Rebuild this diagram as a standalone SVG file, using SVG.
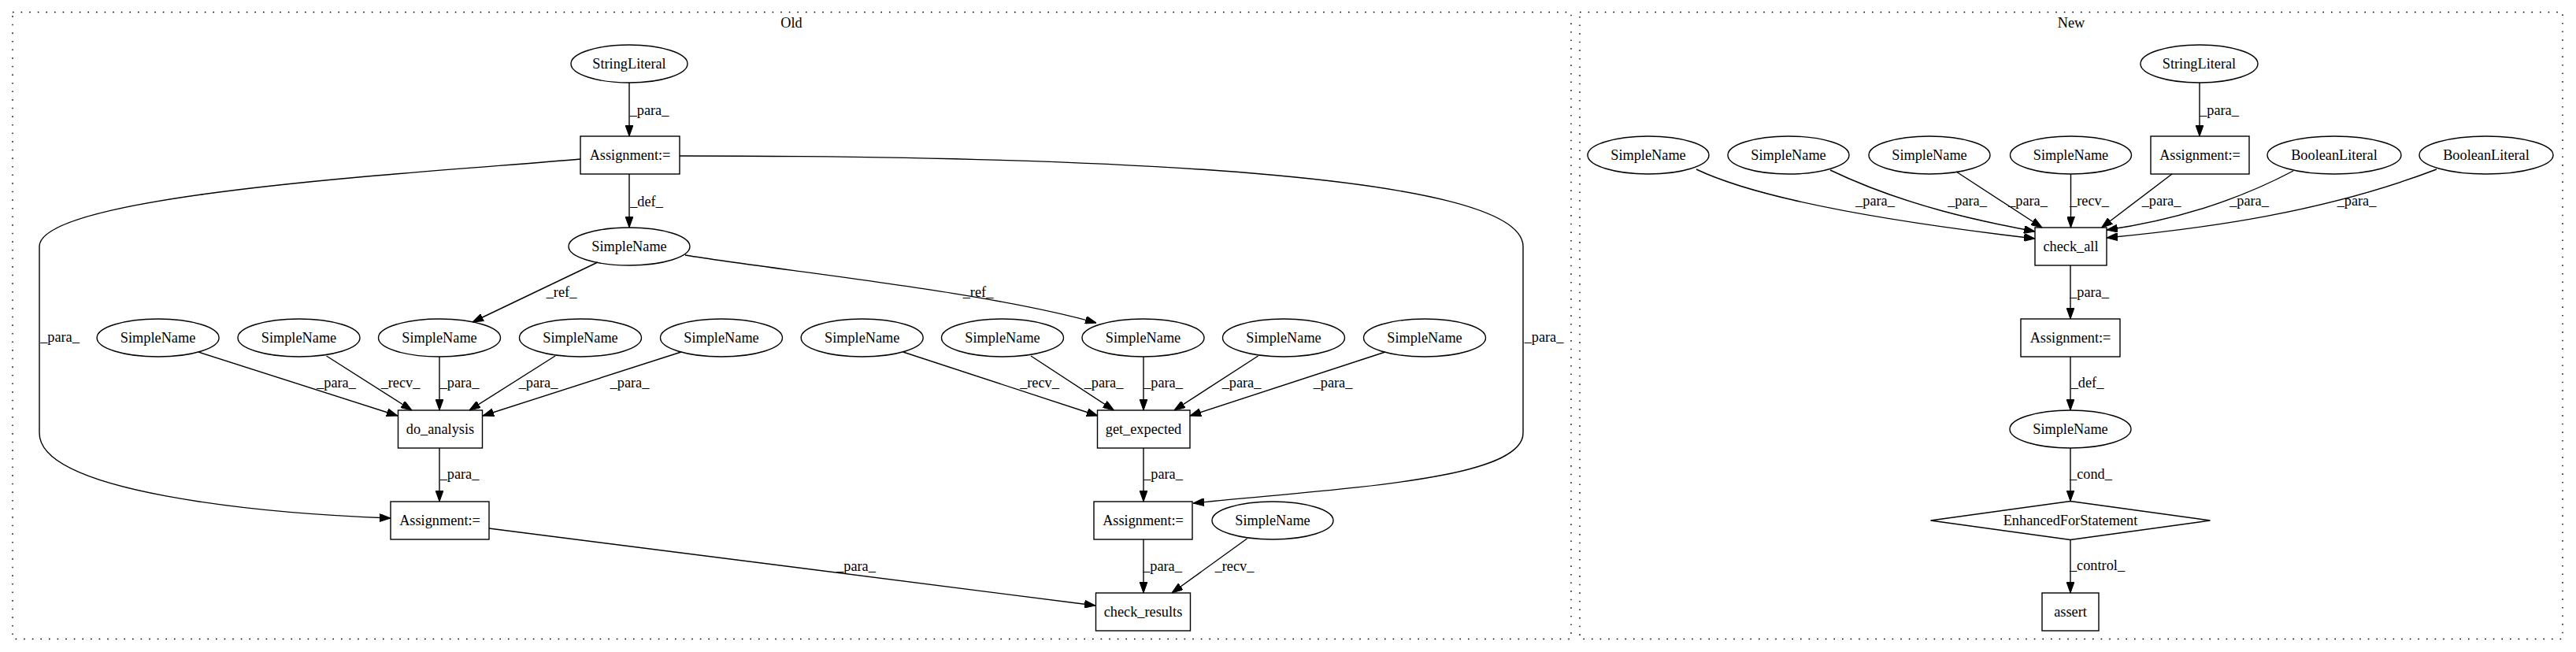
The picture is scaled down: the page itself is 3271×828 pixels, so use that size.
<svg xmlns="http://www.w3.org/2000/svg" width="3271" height="828" viewBox="0 0 3271 828">
<style>
text{font-family:"Liberation Serif","Times New Roman",serif;font-size:18.3px;fill:#000;text-anchor:middle}
.cl{fill:none;stroke:#000;stroke-width:1.4;stroke-dasharray:1.6,9}
.n ellipse,.n rect,.n polygon{fill:none;stroke:#000;stroke-width:1.4}
.e path{fill:none;stroke:#000;stroke-width:1.4;marker-end:url(#ah)}
</style>
<defs>
<marker id="ah" viewBox="0 0 14 10" refX="14" refY="5" markerWidth="14" markerHeight="10" markerUnits="userSpaceOnUse" orient="auto">
<path d="M0,0 L14,5 L0,10 z" fill="#000" stroke="#000" stroke-width="1"/>
</marker>
</defs>
<rect width="3271" height="828" fill="#fff"/>
<g id="clusters">
<rect class="cl" x="16" y="15.5" width="1979" height="796"/>
<text x="1005" y="35">Old</text>
<rect class="cl" x="2006" y="15.5" width="1248" height="796"/>
<text x="2630" y="35">New</text>
</g>
<g id="edges" class="e">
<path d="M799,105 L799,173"/>
<path d="M799,221 L799,289"/>
<path d="M759,333 L600,409"/>
<path d="M870,324 C1000,345 1250,370 1392,410"/>
<path d="M737,202 C560,218 50,245 50,313 L50,550 C50,625 330,652 496,658"/>
<path d="M863,198 C1450,198 1934,225 1934,313 L1934,550 C1934,610 1700,620 1515,639"/>
<path d="M252,447 L505,528"/>
<path d="M414.5,452 L523,521"/>
<path d="M558,453 L558,521"/>
<path d="M705,452 L596,521"/>
<path d="M865,447 L613,528"/>
<path d="M558,569 L558,637"/>
<path d="M1146.7,447 L1394,528"/>
<path d="M1309,452 L1414.5,521"/>
<path d="M1452,453 L1452,521"/>
<path d="M1597.6,452 L1491,521"/>
<path d="M1759,447 L1511,528"/>
<path d="M1452,569 L1452,637"/>
<path d="M1452,685 L1452,753"/>
<path d="M1583.5,684 L1488,753"/>
<path d="M621,671 L1391,769"/>
<path d="M2793,105 L2793,173"/>
<path d="M2154,215 C2240,256 2420,284 2584,303"/>
<path d="M2324,216 C2420,262 2520,282 2584,294"/>
<path d="M2484,218 L2593,289"/>
<path d="M2629.5,221 L2629.5,289"/>
<path d="M2758,221 L2668.5,289"/>
<path d="M2912,217 C2840,255 2760,280 2675,292"/>
<path d="M3094,215 C2950,270 2800,290 2675,302"/>
<path d="M2629,337 L2629,405"/>
<path d="M2629,453 L2629,521"/>
<path d="M2629,569 L2629,636.5"/>
<path d="M2629,685.5 L2629,753"/>
</g>
<g id="edge-labels">
<text x="824.5" y="146">_para_</text>
<text x="821" y="262">_def_</text>
<text x="713" y="377">_ref_</text>
<text x="1242" y="377">_ref_</text>
<text x="76" y="434">_para_</text>
<text x="1960.5" y="434">_para_</text>
<text x="427" y="492">_para_</text>
<text x="508.5" y="492">_recv_</text>
<text x="583.5" y="492">_para_</text>
<text x="683.5" y="492">_para_</text>
<text x="799.5" y="492">_para_</text>
<text x="583.5" y="608">_para_</text>
<text x="1320" y="492">_recv_</text>
<text x="1401.5" y="492">_para_</text>
<text x="1477" y="492">_para_</text>
<text x="1576.5" y="492">_para_</text>
<text x="1692.5" y="492">_para_</text>
<text x="1477" y="608">_para_</text>
<text x="1476" y="725">_para_</text>
<text x="1567.5" y="725">_recv_</text>
<text x="1087" y="725">_para_</text>
<text x="2818" y="146">_para_</text>
<text x="2381" y="261">_para_</text>
<text x="2498" y="261">_para_</text>
<text x="2575" y="261">_para_</text>
<text x="2653" y="261">_recv_</text>
<text x="2744.5" y="261">_para_</text>
<text x="2856" y="261">_para_</text>
<text x="2992.5" y="261">_para_</text>
<text x="2653" y="377">_para_</text>
<text x="2650.5" y="492">_def_</text>
<text x="2655" y="608">_cond_</text>
<text x="2663" y="724">_control_</text>
</g>
<g id="o_str" class="n"><ellipse cx="799" cy="81" rx="74" ry="24"/><text x="799" y="86.5">StringLiteral</text></g>
<g id="o_asg0" class="n"><rect x="737" y="173" width="126" height="48"/><text x="800" y="202.5">Assignment:=</text></g>
<g id="o_sn0" class="n"><ellipse cx="799" cy="313" rx="77" ry="24"/><text x="799" y="318.5">SimpleName</text></g>
<g id="o_sn1" class="n"><ellipse cx="200.6" cy="429" rx="77.5" ry="24"/><text x="200.6" y="434.5">SimpleName</text></g>
<g id="o_sn2" class="n"><ellipse cx="379.5" cy="429" rx="77.5" ry="24"/><text x="379.5" y="434.5">SimpleName</text></g>
<g id="o_sn3" class="n"><ellipse cx="558" cy="429" rx="77.5" ry="24"/><text x="558" y="434.5">SimpleName</text></g>
<g id="o_sn4" class="n"><ellipse cx="737" cy="429" rx="77.5" ry="24"/><text x="737" y="434.5">SimpleName</text></g>
<g id="o_sn5" class="n"><ellipse cx="916" cy="429" rx="77.5" ry="24"/><text x="916" y="434.5">SimpleName</text></g>
<g id="o_sn6" class="n"><ellipse cx="1094.7" cy="429" rx="77.5" ry="24"/><text x="1094.7" y="434.5">SimpleName</text></g>
<g id="o_sn7" class="n"><ellipse cx="1273" cy="429" rx="77.5" ry="24"/><text x="1273" y="434.5">SimpleName</text></g>
<g id="o_sn8" class="n"><ellipse cx="1451.5" cy="429" rx="77.5" ry="24"/><text x="1451.5" y="434.5">SimpleName</text></g>
<g id="o_sn9" class="n"><ellipse cx="1630" cy="429" rx="77.5" ry="24"/><text x="1630" y="434.5">SimpleName</text></g>
<g id="o_sn10" class="n"><ellipse cx="1809" cy="429" rx="77.5" ry="24"/><text x="1809" y="434.5">SimpleName</text></g>
<g id="o_do" class="n"><rect x="505.5" y="521" width="107" height="48"/><text x="559" y="550.5">do_analysis</text></g>
<g id="o_get" class="n"><rect x="1393.5" y="521" width="117.5" height="48"/><text x="1452" y="550.5">get_expected</text></g>
<g id="o_asg1" class="n"><rect x="496" y="637" width="125" height="48"/><text x="558.5" y="666.5">Assignment:=</text></g>
<g id="o_asg2" class="n"><rect x="1389" y="637" width="125" height="48"/><text x="1451.5" y="666.5">Assignment:=</text></g>
<g id="o_sn11" class="n"><ellipse cx="1616" cy="661" rx="77" ry="24"/><text x="1616" y="666.5">SimpleName</text></g>
<g id="o_chk" class="n"><rect x="1391.5" y="753" width="120" height="48"/><text x="1451.5" y="782.5">check_results</text></g>
<g id="n_str" class="n"><ellipse cx="2792.5" cy="81" rx="74.5" ry="24"/><text x="2792.5" y="86.5">StringLiteral</text></g>
<g id="n_asg0" class="n"><rect x="2731" y="173" width="125" height="48"/><text x="2793.5" y="202.5">Assignment:=</text></g>
<g id="n_sn1" class="n"><ellipse cx="2093" cy="197" rx="77" ry="24"/><text x="2093" y="202.5">SimpleName</text></g>
<g id="n_sn2" class="n"><ellipse cx="2271" cy="197" rx="77" ry="24"/><text x="2271" y="202.5">SimpleName</text></g>
<g id="n_sn3" class="n"><ellipse cx="2450" cy="197" rx="77" ry="24"/><text x="2450" y="202.5">SimpleName</text></g>
<g id="n_sn4" class="n"><ellipse cx="2629.5" cy="197" rx="77" ry="24"/><text x="2629.5" y="202.5">SimpleName</text></g>
<g id="n_bl1" class="n"><ellipse cx="2964" cy="197" rx="85" ry="24"/><text x="2964" y="202.5">BooleanLiteral</text></g>
<g id="n_bl2" class="n"><ellipse cx="3157" cy="197" rx="85" ry="24"/><text x="3157" y="202.5">BooleanLiteral</text></g>
<g id="n_chk" class="n"><rect x="2584" y="289" width="91" height="48"/><text x="2629.5" y="318.5">check_all</text></g>
<g id="n_asg1" class="n"><rect x="2566" y="405" width="126" height="48"/><text x="2629" y="434.5">Assignment:=</text></g>
<g id="n_sn5" class="n"><ellipse cx="2629" cy="545" rx="77" ry="24"/><text x="2629" y="550.5">SimpleName</text></g>
<g id="n_efs" class="n"><polygon points="2629,636.5 2806.5,661 2629,685.5 2451.5,661"/><text x="2629" y="666.5">EnhancedForStatement</text></g>
<g id="n_assert" class="n"><rect x="2593" y="753" width="72" height="48"/><text x="2629" y="782.5">assert</text></g>
</svg>
